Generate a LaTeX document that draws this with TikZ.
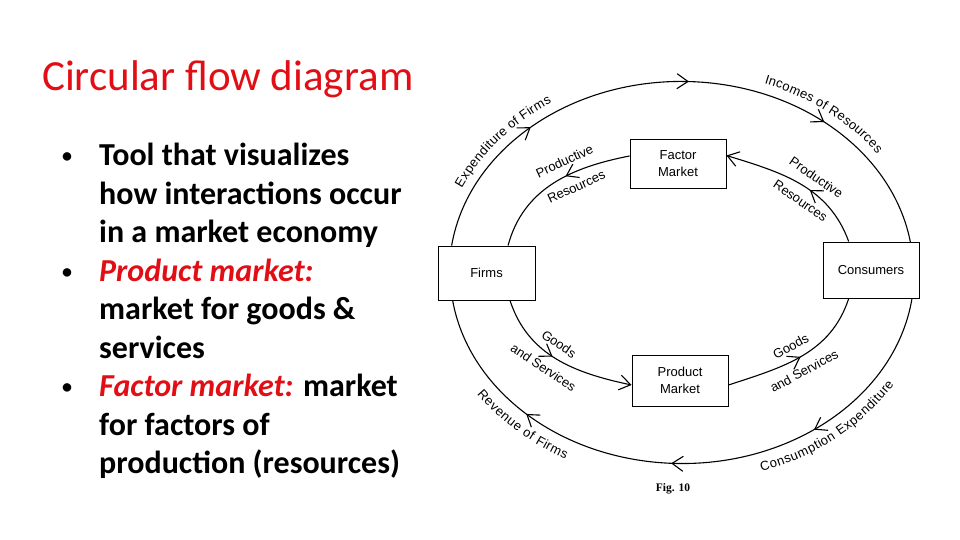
\documentclass[tikz,border=0pt]{standalone}
\usepackage{fontspec}
\setmainfont{Carlito}
\newfontfamily\diagfont{Liberation Sans}
\newfontfamily\figfont{Liberation Serif}
\usetikzlibrary{calc, arrows.meta, decorations.markings, decorations.text}
\definecolor{slidered}{RGB}{226,14,22}
\newcommand{\flowfont}{\diagfont\fontsize{13}{16.5}\selectfont}
\newcommand{\bul}{\llap{\raisebox{3pt}{\fontsize{20}{20}\selectfont\textbullet}\hspace{27pt}}}

\begin{document}
\begin{tikzpicture}[x=1pt, y=1pt,
    flowhead/.tip={Straight Barb[length=11pt, width=15pt]},
    market/.style={draw, line width=0.9pt, inner sep=0pt, align=center, font=\flowfont},
    flow/.style={line width=1.1pt},
    flowtip/.style={postaction={decorate, decoration={markings,
        mark=at position #1 with {\arrow{flowhead}}}}},
    flowlabel/.style={sloped, align=center, inner sep=0pt,
        font=\diagfont\fontsize{13}{28}\selectfont},
    along/.style={decorate, decoration={text along path, text align=center, raise=#1}}
  ]
  \useasboundingbox (0,0) rectangle (960,540);

  % slide text
  \node[anchor=base west, inner sep=0pt, text=slidered, font=\fontsize{43}{50}\selectfont]
    (title) at (42,449) {Circular flow diagram};
  \node[anchor=base west, inner sep=0pt, align=left, font=\bfseries\fontsize{32}{38.5}\selectfont]
    (points) at (99,66)
    {\bul Tool that visualizes\\how interactions occur\\in a market economy\\
     \bul\textcolor{slidered}{\itshape Product market:}\\market for goods \&\\services\\
     \bul\textcolor{slidered}{\itshape Factor market:} market\\for factors of\\production (resources)};

  % sectors and markets
  \node[market, minimum width=97pt, minimum height=54pt] (firms) at (486.5,267) {Firms};
  \node[market, minimum width=96pt, minimum height=56pt] (consumers) at (871,270) {Consumers};
  \node[market, minimum width=96pt, minimum height=49pt] (factor) at (678,376.5) {Factor\\Market};
  \node[market, minimum width=96pt, minimum height=51pt] (product) at (680,159.5) {Product\\Market};
  \coordinate (hub) at (681.7,267.5);

  % money flows, outer ring
  \draw[flow, flowtip/.list={0.24,0.515,0.75}]
    ($(firms.north west)!0.144!(firms.north east)$)
    arc[start angle=171.9, end angle=9, x radius=232pt, y radius=191pt];
  \draw[flow, flowtip/.list={0.277,0.52,0.774}]
    ($(consumers.south west)!0.923!(consumers.south east)$)
    arc[start angle=-7.8, end angle=-171.5, x radius=232pt, y radius=191pt];

  \path[along=10pt, decoration={text={|\flowfont|Expenditure of Firms}}]
    ([shift={(176:232pt and 191pt)}]hub) arc[start angle=176, end angle=105, x radius=232pt, y radius=191pt];
  \path[along=10pt, decoration={text={|\flowfont|Incomes of Resources}}]
    ([shift={(88:232pt and 191pt)}]hub) arc[start angle=88, end angle=15, x radius=232pt, y radius=191pt];
  \path[along=-19pt, decoration={text={|\flowfont|Revenue of Firms}}]
    ([shift={(192:232pt and 191pt)}]hub) arc[start angle=192, end angle=262, x radius=232pt, y radius=191pt];
  \path[along=-19pt, decoration={text={|\flowfont|Consumption Expenditure}}]
    ([shift={(271:232pt and 191pt)}]hub) arc[start angle=271, end angle=349, x radius=232pt, y radius=191pt];

  % real flows, inner ring
  \draw[flow, flowtip=0.42] ([yshift=7.5pt]factor.west) to[out=191, in=75]
    node[flowlabel, pos=0.37] (resleft) {Productive\\Resources}
    ($(firms.north west)!0.72!(firms.north east)$);
  \draw[flow, flowtip=0.42, -flowhead] ($(consumers.north west)!0.27!(consumers.north east)$)
    to[out=110, in=-17] node[flowlabel, pos=0.44] (resright) {Productive\\Resources}
    ([yshift=8pt]factor.east);
  \draw[flow, flowtip=0.46, -flowhead] ($(firms.south west)!0.74!(firms.south east)$)
    to[out=-72, in=168] node[flowlabel, pos=0.46] (goodsleft) {Goods\\and Services}
    ([yshift=-4.5pt]product.west);
  \draw[flow, flowtip=0.5] ([yshift=-4.5pt]product.east) to[out=18, in=-108]
    node[flowlabel, pos=0.46] (goodsright) {Goods\\and Services}
    ($(consumers.south west)!0.27!(consumers.south east)$);

  \node[font=\figfont\bfseries\fontsize{11.5}{13}\selectfont] (fig) at (673,51) {Fig. 10};
\end{tikzpicture}
\end{document}
